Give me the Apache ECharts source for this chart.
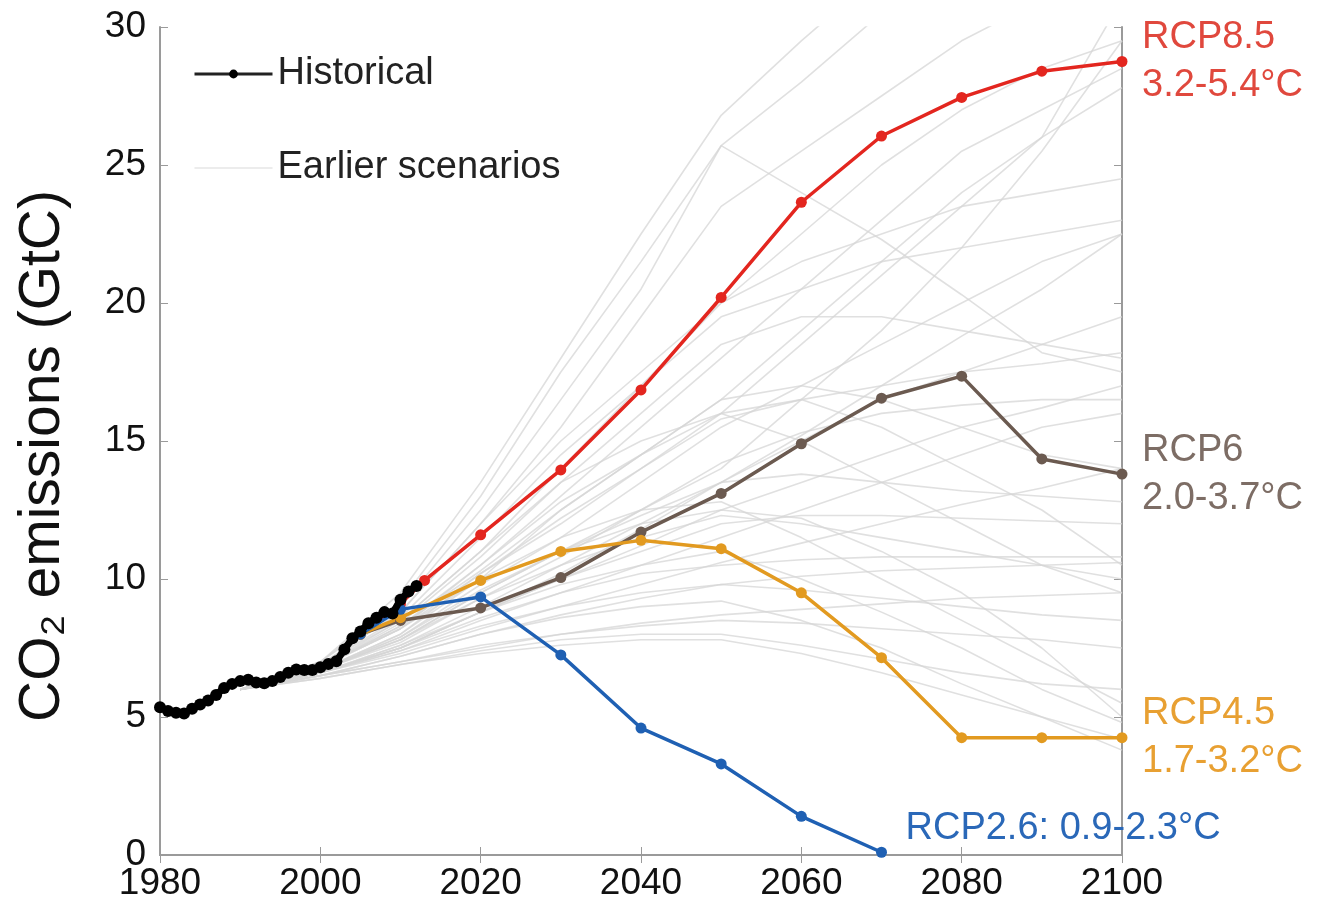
<!DOCTYPE html>
<html>
<head>
<meta charset="utf-8">
<title>CO2 emissions scenarios</title>
<script src="https://cdn.jsdelivr.net/npm/echarts@6/dist/echarts.min.js"></script>
<style>
html, body { margin: 0; padding: 0; background: #fff; }
#chart { width: 1319px; height: 909px; }
</style>
</head>
<body>
<div id="chart"></div>
<script>
// x ticks
var xTicks = [1980, 2000, 2020, 2040, 2060, 2080, 2100]
var yTicks = [0, 5, 10, 15, 20, 25, 30]

// historical emissions, one value per year from 1980
var histYears = [1980, 1981, 1982, 1983, 1984, 1985, 1986, 1987, 1988, 1989, 1990,
	1991, 1992, 1993, 1994, 1995, 1996, 1997, 1998, 1999, 2000,
	2001, 2002, 2003, 2004, 2005, 2006, 2007, 2008, 2009, 2010, 2011, 2012]
var histValues = [5.35, 5.22, 5.15, 5.13, 5.3, 5.45, 5.6, 5.8, 6.05, 6.2, 6.3,
	6.35, 6.25, 6.22, 6.3, 6.45, 6.6, 6.72, 6.7, 6.7, 6.8,
	6.92, 7.02, 7.45, 7.85, 8.1, 8.4, 8.6, 8.8, 8.75, 9.25, 9.55, 9.75]

// RCP scenarios
var rcp85Years = [2005, 2010, 2013, 2020, 2030, 2040, 2050, 2060, 2070, 2080, 2090, 2100]
var rcp85 = [8.0, 9.1, 9.95, 11.6, 13.95, 16.85, 20.2, 23.65, 26.05, 27.45, 28.4, 28.75]
var rcpYears = [2005, 2010, 2020, 2030, 2040, 2050, 2060, 2070, 2080, 2090, 2100]
var rcp6 = [8.0, 8.5, 8.95, 10.05, 11.7, 13.1, 14.9, 16.55, 17.35, 14.35, 13.8]
var rcp45 = [8.0, 8.6, 9.95, 11.0, 11.4, 11.1, 9.5, 7.15, 4.25, 4.25, 4.25]
var rcp26Years = [2005, 2010, 2020, 2030, 2040, 2050, 2060, 2070]
var rcp26 = [8.0, 8.9, 9.35, 7.25, 4.6, 3.3, 1.4, 0.1]

// earlier scenarios (grey fan), values at these years
var oldYears = [1990, 2000, 2010, 2020, 2030, 2040, 2050, 2060, 2070, 2080, 2090, 2100]
var old01 = [6.0, 7.0, 9.5, 13.5, 18, 22.5, 26.8, 29.5, 32, 34, 35, 36]
var old02 = [6.0, 7.0, 9.0, 12.5, 16.5, 20.5, 25.7, 28, 30.5, 32, 33, 34]
var old03 = [6.0, 6.9, 8.8, 12, 15.5, 19.5, 23.5, 25.5, 27.5, 29.5, 31, 32]
var old04 = [6.0, 7.0, 9.2, 13, 17.5, 21.5, 25.7, 24, 22.3, 20.3, 18.2, 17.5]
var old05 = [6.0, 6.8, 8.5, 11, 14, 17, 20, 22.5, 25, 27, 28.5, 29.5]
var old06 = [6.0, 6.8, 8.3, 10.5, 13, 15.5, 18, 20.5, 23, 25.5, 27, 28.5]
var old07 = [6.0, 6.7, 8.0, 10, 12.5, 14.5, 16.5, 19, 21.5, 24, 26, 27.8]
var old08 = [6.0, 6.8, 8.2, 10.2, 12, 14, 16, 18.5, 21, 23.5, 26, 31]
var old09 = [6.0, 6.7, 7.8, 9.5, 11, 12.5, 14, 16.5, 19, 22, 25.5, 29.5]
var old10 = [6.0, 6.9, 8.6, 11.5, 14.5, 17, 19.5, 20.5, 21.5, 22, 22.5, 23]
var old11 = [6.0, 6.7, 7.9, 9.8, 11.5, 13.5, 15.5, 17, 18.5, 20, 21.5, 22.5]
var old12 = [6.0, 6.6, 7.6, 9.0, 10.5, 12, 13.5, 15, 16.5, 17.5, 18.5, 19.5]
var old13 = [6.0, 6.8, 8.4, 10.8, 13.5, 16, 18.5, 19.5, 19.5, 19, 18.5, 18]
var old14 = [6.0, 6.7, 8.0, 10.2, 12.2, 14, 15.8, 16.5, 17, 17.5, 17.8, 18.2]
var old15 = [6.0, 6.6, 7.5, 8.8, 10, 11.2, 12.5, 13.5, 14.5, 15.5, 16.2, 17]
var old16 = [6.0, 6.7, 7.7, 9.3, 10.8, 12.5, 14.2, 15.3, 16, 16.3, 16.5, 16.5]
var old17 = [6.0, 6.6, 7.4, 8.5, 9.5, 10.5, 11.5, 12.5, 13.5, 14.5, 15.5, 16]
var old18 = [6.0, 6.8, 8.3, 10.3, 12.5, 14.5, 16.5, 17, 16.5, 15.5, 14.5, 14]
var old19 = [6.0, 6.6, 7.3, 8.2, 9.0, 9.8, 10.6, 11.3, 12, 12.7, 13.3, 14]
var old20 = [6.0, 6.7, 7.9, 9.6, 11, 12.3, 13.5, 13.8, 13.5, 13.2, 13, 12.8]
var old21 = [6.0, 6.6, 7.5, 8.8, 10, 11, 12, 12.3, 12.3, 12.2, 12.1, 12]
var old22 = [6.0, 6.5, 7.2, 8.0, 8.7, 9.3, 9.8, 10.1, 10.3, 10.4, 10.5, 10.6]
var old23 = [6.0, 6.7, 7.8, 9.3, 10.5, 11.5, 12.3, 12, 11.5, 11, 10.5, 10]
var old24 = [6.0, 6.5, 7.0, 7.5, 8.0, 8.4, 8.7, 8.9, 9.1, 9.3, 9.4, 9.5]
var old25 = [6.0, 6.6, 7.4, 8.3, 9.0, 9.5, 9.8, 9.6, 9.3, 9.0, 8.7, 8.5]
var old26 = [6.0, 6.5, 7.0, 7.6, 8.0, 8.3, 8.5, 8.4, 8.2, 8.0, 7.8, 7.5]
var old27 = [6.0, 6.4, 6.9, 7.4, 7.8, 8.0, 8.0, 7.6, 7.1, 6.6, 6.2, 6.0]
var old28 = [6.0, 6.8, 8.2, 10.0, 11.5, 12.5, 12.8, 11.5, 10, 8.5, 7, 5.5]
var old29 = [6.0, 6.6, 7.6, 8.8, 9.8, 10.5, 11.0, 10, 8.8, 7.5, 6, 4.8]
var old30 = [6.0, 6.4, 6.9, 7.3, 7.6, 7.8, 7.8, 7.3, 6.6, 5.8, 5.0, 4.2]
var old31 = [6.0, 6.5, 7.2, 8.0, 8.6, 9.0, 9.2, 8.5, 7.5, 6.2, 5.0, 3.8]
var old32 = [6.0, 6.9, 8.5, 11, 13.5, 15, 16, 15, 13.5, 12, 10.5, 9.5]
var old33 = [6.0, 6.8, 8.2, 10.5, 12.8, 14.5, 16, 16.5, 15.5, 14, 12.5, 10.5]
var old34 = [6.0, 6.7, 7.8, 9.5, 11, 12, 12.5, 12.2, 11, 9.5, 7.5, 5.0]
var old35 = [6.0, 6.6, 7.5, 8.6, 9.5, 10.2, 10.5, 10.7, 10.8, 10.8, 10.8, 10.8]
var old36 = [6.0, 6.9, 8.8, 12, 15, 17.5, 20, 21.5, 22.5, 23.5, 24, 24.5]
var old37 = [6.0, 6.6, 7.5, 8.8, 10.2, 11.8, 13.5, 15.2, 17, 18.8, 20.5, 22.5]

var oldSets = [old01, old02, old03, old04, old05, old06, old07, old08, old09, old10,
	old11, old12, old13, old14, old15, old16, old17, old18, old19, old20,
	old21, old22, old23, old24, old25, old26, old27, old28, old29, old30,
	old31, old32, old33, old34, old35, old36, old37]

function pairs (xs, ys) {
	return xs.map(function (x, i) { return [x, ys[i]] })
}

var fontAxis = "'Liberation Sans Narrow', 'Liberation Sans', Arial, sans-serif"
var fontText = "'Liberation Sans', Arial, sans-serif"

function rcpSeries (name, xs, ys, color, labelColor, label, size, offset) {
	return {
		name: name,
		type: 'line',
		data: pairs(xs, ys),
		symbol: 'circle',
		symbolSize: 11,
		z: 5,
		lineStyle: { color: color, width: 3.5 },
		itemStyle: { color: color },
		endLabel: {
			show: true,
			formatter: label,
			color: labelColor,
			fontFamily: fontText,
			fontSize: size,
			lineHeight: 48,
			distance: 20,
			offset: offset || [0, 0]
		}
	}
}

var series = []
oldSets.forEach(function (s) {
	series.push({
		name: 'Earlier scenarios',
		type: 'line',
		data: pairs(oldYears, s),
		symbol: 'none',
		silent: true,
		z: 1,
		itemStyle: { color: 'rgba(0,0,0,0)' },
		lineStyle: { color: '#d6d6d6', width: 1.6, opacity: 0.75 }
	})
})
series.push(rcpSeries('RCP8.5', rcp85Years, rcp85, '#e3261f', '#e0483d', 'RCP8.5\n3.2-5.4°C', 38))
series.push(rcpSeries('RCP6', rcpYears, rcp6, '#6b5a50', '#7d6d65', 'RCP6\n2.0-3.7°C', 38))
series.push(rcpSeries('RCP4.5', rcpYears, rcp45, '#e29a20', '#e8a032', 'RCP4.5\n1.7-3.2°C', 38))
series.push(rcpSeries('RCP2.6', rcp26Years, rcp26, '#1f60b3', '#2a68b8', 'RCP2.6: 0.9-2.3°C', 38, [4, -24]))
series.push({
	name: 'Historical',
	type: 'line',
	data: pairs(histYears, histValues),
	symbol: 'circle',
	symbolSize: 12,
	z: 10,
	lineStyle: { color: '#000', width: 7 },
	itemStyle: { color: '#000' }
})

var option = {
	animation: false,
	backgroundColor: '#fff',
	grid: { left: 160, right: 197, top: 27, bottom: 54 },
	legend: {
		data: [
			{ name: 'Historical', lineStyle: { width: 3, color: '#222' }, itemStyle: { color: '#000' } },
			{ name: 'Earlier scenarios', lineStyle: { width: 2, color: '#e6e6e6' } }
		],
		orient: 'vertical',
		left: 188,
		top: 50,
		itemWidth: 78,
		itemHeight: 11,
		itemGap: 56,
		textStyle: { fontFamily: fontText, fontSize: 38, color: '#222' },
		selectedMode: false
	},
	xAxis: [
		{
			type: 'value',
			min: 1980,
			max: 2100,
			interval: 20,
			axisLine: { lineStyle: { color: '#9a9a9a', width: 2 } },
			axisTick: { inside: true, length: 8, lineStyle: { color: '#9a9a9a' } },
			axisLabel: {
				margin: 10,
				fontFamily: fontAxis,
				fontSize: 37,
				color: '#111',
				formatter: function (v) { return xTicks.indexOf(v) >= 0 ? String(v) : '' }
			},
			splitLine: { show: false }
		},
		{
			type: 'value',
			position: 'top',
			min: 1980,
			max: 2100,
			interval: 20,
			axisLine: { show: true, lineStyle: { color: '#9a9a9a', width: 2 } },
			axisTick: { inside: true, length: 8, lineStyle: { color: '#9a9a9a' } },
			axisLabel: { show: false },
			splitLine: { show: false }
		}
	],
	yAxis: [
		{
			type: 'value',
			min: 0,
			max: 30,
			interval: 5,
			name: 'CO₂ emissions (GtC)',
			nameLocation: 'middle',
			nameGap: 88,
			nameTextStyle: { fontFamily: fontText, fontSize: 57, color: '#111', padding: [0, 0, 0, -30] },
			axisLine: { show: true, lineStyle: { color: '#9a9a9a', width: 2 } },
			axisTick: { show: true, inside: true, length: 8, lineStyle: { color: '#9a9a9a' } },
			axisLabel: {
				margin: 14,
				fontFamily: fontAxis,
				fontSize: 37,
				color: '#111',
				formatter: function (v) { return yTicks.indexOf(v) >= 0 ? String(v) : '' }
			},
			splitLine: { show: false }
		},
		{
			type: 'value',
			position: 'right',
			min: 0,
			max: 30,
			interval: 5,
			axisLine: { show: true, lineStyle: { color: '#9a9a9a', width: 2 } },
			axisTick: { show: true, inside: true, length: 8, lineStyle: { color: '#9a9a9a' } },
			axisLabel: { show: false },
			splitLine: { show: false }
		}
	],
	series: series
}

var myChart = echarts.init(document.getElementById('chart'))
myChart.setOption(option)
</script>
</body>
</html>
